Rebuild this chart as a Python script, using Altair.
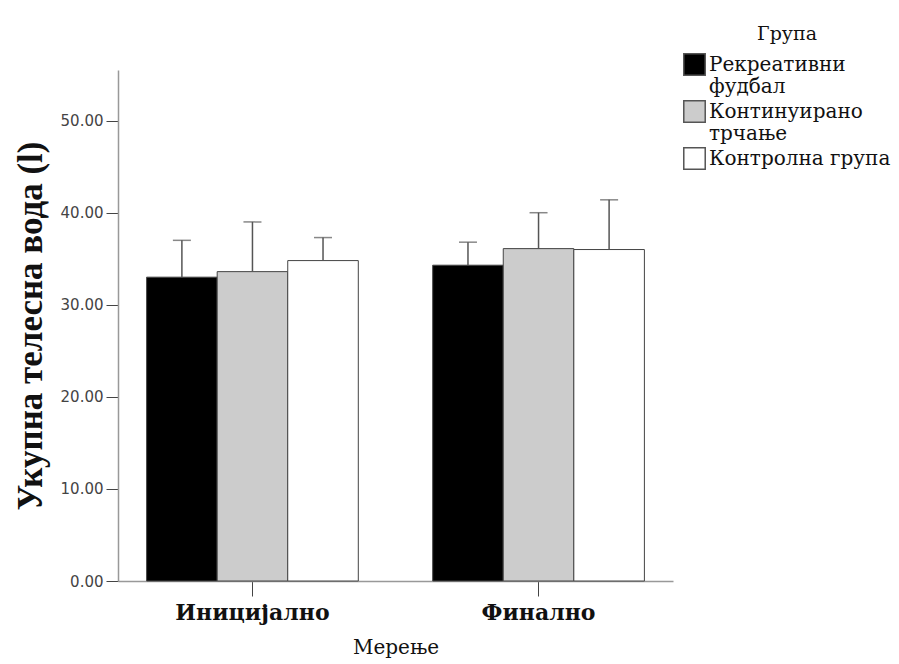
import altair as alt
import pandas as pd

measurements = ["Иницијално", "Финално"]
groups = ["Рекреативни фудбал", "Континуирано трчање", "Контролна група"]
colors = ["#000000", "#cccccc", "#ffffff"]
means_initial = [33.0, 33.6, 34.8]
means_final = [34.3, 36.1, 36.0]
upper_initial = [37.0, 39.0, 37.3]
upper_final = [36.8, 40.0, 41.4]
y_ticks = [0, 10, 20, 30, 40, 50]

rows = []
for m, means, ups in [(measurements[0], means_initial, upper_initial),
                      (measurements[1], means_final, upper_final)]:
    for g, v, u in zip(groups, means, ups):
        rows.append({"Мерење": m, "Група": g, "mean": v, "upper": u})
df = pd.DataFrame(rows)

x_enc = alt.X("Мерење:N", sort=measurements,
              scale=alt.Scale(paddingInner=0.26, paddingOuter=0.1),
              axis=alt.Axis(title="Мерење", labelAngle=0,
                            labelFont="DejaVu Serif", labelFontWeight="bold",
                            labelFontSize=22, labelColor="#111", labelPadding=6,
                            titleFont="DejaVu Serif", titleFontWeight="normal",
                            titleFontSize=20, titleColor="#111", titlePadding=14,
                            tickSize=15, tickColor="#444", domainColor="#999"))
xoff = alt.XOffset("Група:N", sort=groups, scale=alt.Scale(paddingInner=0, paddingOuter=0))

bars = alt.Chart(df).mark_bar(stroke="#444", strokeWidth=1).encode(
    x=x_enc,
    xOffset=xoff,
    y=alt.Y("mean:Q",
            scale=alt.Scale(domain=[0, 55.5], nice=False),
            axis=alt.Axis(title="Укупна телесна вода (l)", values=y_ticks, format=".2f",
                          grid=False, labelFont="DejaVu Sans", labelFontSize=15,
                          labelColor="#444", tickSize=12, tickColor="#444",
                          labelPadding=3, domainColor="#999",
                          titleFont="Liberation Serif", titleFontWeight="bold",
                          titleFontSize=35, titleColor="#111", titlePadding=12)),
    fill=alt.Fill("Група:N", sort=groups,
                  scale=alt.Scale(domain=groups, range=colors),
                  legend=alt.Legend(title="Група", orient="none", legendX=565, legendY=-45,
                                    titleFont="DejaVu Serif", titleFontWeight="normal",
                                    titleFontSize=19, titleColor="#111",
                                    titleAnchor="middle", titlePadding=9,
                                    labelFont="DejaVu Serif", labelFontSize=20,
                                    labelColor="#111", labelLimit=300,
                                    labelExpr="indexof(datum.label, 'група') >= 0 ? datum.label : split(datum.label, ' ')",
                                    symbolType="square", symbolSize=460,
                                    symbolStrokeColor="#555", symbolStrokeWidth=1.5,
                                    symbolOpacity=1, labelOffset=3, rowPadding=0)),
)

rules = alt.Chart(df).mark_rule(color="#555", strokeWidth=1.5).encode(
    x=alt.X("Мерење:N", sort=measurements),
    xOffset=xoff,
    y="mean:Q",
    y2="upper:Q",
)

caps = alt.Chart(df).mark_tick(color="#555", thickness=1.5, size=18, orient="horizontal").encode(
    x=alt.X("Мерење:N", sort=measurements),
    xOffset=xoff,
    y="upper:Q",
)

chart = (bars + rules + caps).properties(
    width=555, height=511,
    autosize=alt.AutoSizeParams(type="none"),
    padding={"left": 110, "top": 62, "right": 218, "bottom": 80},
).configure_view(stroke=None).configure_axis(domainWidth=1.5)

chart.save("out.html", embed_options={"renderer": "svg", "actions": False})
